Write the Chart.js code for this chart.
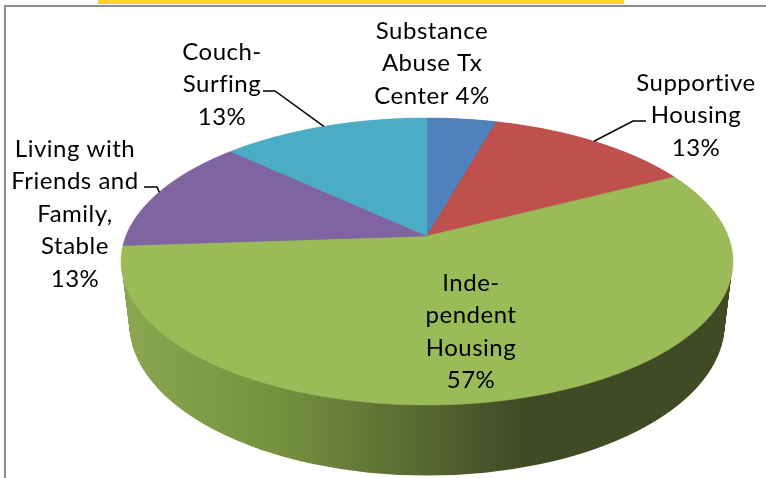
<!DOCTYPE html>
<html>
<head>
<meta charset="utf-8">
<script src="https://cdn.jsdelivr.net/npm/chart.js@4/dist/chart.umd.min.js"></script>
<style>
    html, body { margin: 0; padding: 0; background: #fff; overflow: hidden; }
    #wrap { position: relative; width: 766px; height: 478px; }
    #topBar { position: absolute; left: 98px; top: 0; width: 526px; height: 4px; background: #ffd420; }
    #frameTop { position: absolute; left: 4px; top: 5px; width: 762px; height: 2px; background: #8c8c8c; }
    #frameLeft { position: absolute; left: 4px; top: 5px; width: 2px; height: 473px; background: #8c8c8c; }
    canvas { position: absolute; left: 0; top: 0; filter: blur(0.35px); }
</style>
</head>
<body>
<div id="wrap">
    <canvas id="myChart" width="766" height="478"></canvas>
    <div id="topBar"></div>
    <div id="frameTop"></div>
    <div id="frameLeft"></div>
</div>
<script>
// DATA
const categories = ["Substance Abuse Tx Center", "Supportive Housing", "Independent Housing", "Living with Friends and Family, Stable", "Couch-Surfing"];
const counts = [1, 3, 13, 3, 3];
const sliceColors = ["#4f81bd", "#c0504d", "#9bbb59", "#8064a2", "#4bacc6"];

// label text per slice, the percentage gets added from the data
const labelLines = [
    ["Substance", "Abuse Tx", "Center {p}"],
    ["Supportive", "Housing", "{p}"],
    ["Inde-", "pendent", "Housing", "{p}"],
    ["Living with", "Friends and", "Family,", "Stable", "{p}"],
    ["Couch-", "Surfing", "{p}"]
];

// LAYOUT OF THE TILTED PIE
const tilt = { cx: 427, apexY: 236, a: 301.1, b: 97.03, k: -0.1777 };
const floorEllipse = { cx: 427, cy: 325, rx: 298, ry: 152 };
const topEllipse = { cx: 427, cy: 261.5, rx: 306, ry: 143.5 };
const labelBoxes = [
    { x: 432, y: 31 },
    { x: 696, y: 83 },
    { x: 471, y: 283 },
    { x: 75, y: 149 },
    { x: 222, y: 52 }
];
const lineHeight = 32.5;
// bent leader lines: start next to the text, then knee, last point is on the slice
const leaders = { 1: [[646, 121], [633, 121]], 3: [[144, 187], [157, 187]], 4: [[263, 91], [275, 91]] };

function project(angle) {
    const d = 1 + tilt.k * Math.sin(angle);
    return {
        x: tilt.cx + tilt.a * Math.cos(angle) / d,
        y: (tilt.apexY + tilt.b * Math.sin(angle)) / d
    };
}

// Chart.js still works out the angles, the arc only gets drawn on the tilted plane
Chart.ArcElement.prototype.draw = function (ctx) {
    const color = this.options.backgroundColor;
    const steps = Math.ceil((this.endAngle - this.startAngle) * 60);
    ctx.save();
    ctx.beginPath();
    ctx.moveTo(tilt.cx, tilt.apexY);
    for (let i = 0; i <= steps; i++) {
        const p = project(this.startAngle + (this.endAngle - this.startAngle) * i / steps);
        ctx.lineTo(p.x, p.y);
    }
    ctx.closePath();
    ctx.fillStyle = color;
    ctx.fill();
    ctx.strokeStyle = color;
    ctx.lineWidth = 0.5;
    ctx.stroke();
    ctx.restore();
};

const sideWall = {
    id: "sideWall",
    beforeDatasetsDraw(chart) {
        const ctx = chart.ctx;
        const grad = ctx.createLinearGradient(125, 0, 730, 0);
        grad.addColorStop(0, "#8ba650");
        grad.addColorStop(0.25, "#76923f");
        grad.addColorStop(0.45, "#5d6f34");
        grad.addColorStop(0.66, "#404a24");
        grad.addColorStop(1, "#404a24");
        ctx.save();
        ctx.fillStyle = grad;
        for (let t = 0; t <= 1; t += 0.02) {
            ctx.beginPath();
            ctx.ellipse(
                topEllipse.cx + (floorEllipse.cx - topEllipse.cx) * t,
                topEllipse.cy + (floorEllipse.cy - topEllipse.cy) * t,
                topEllipse.rx + (floorEllipse.rx - topEllipse.rx) * t - 0.5,
                topEllipse.ry + (floorEllipse.ry - topEllipse.ry) * t,
                0, 0, Math.PI * 2
            );
            ctx.fill();
        }
        ctx.restore();
    }
};

const pieLabels = {
    id: "pieLabels",
    afterDatasetsDraw(chart) {
        const ctx = chart.ctx;
        const total = counts.reduce((a, b) => a + b, 0);
        const arcs = chart.getDatasetMeta(0).data;
        ctx.save();

        // leader lines
        ctx.strokeStyle = "#000";
        ctx.lineWidth = 1.5;
        Object.keys(leaders).forEach(i => {
            const end = project((arcs[i].startAngle + arcs[i].endAngle) / 2);
            ctx.beginPath();
            ctx.moveTo(leaders[i][0][0], leaders[i][0][1]);
            ctx.lineTo(leaders[i][1][0], leaders[i][1][1]);
            ctx.lineTo(end.x, end.y);
            ctx.stroke();
        });

        // text
        ctx.fillStyle = "#000";
        ctx.font = "24px Lato";
        ctx.letterSpacing = "0.5px";
        ctx.textAlign = "center";
        ctx.textBaseline = "middle";
        labelLines.forEach((lines, i) => {
            const pct = Math.round(counts[i] / total * 100) + "%";
            lines.forEach((line, j) => {
                ctx.fillText(line.replace("{p}", pct), labelBoxes[i].x, labelBoxes[i].y + j * lineHeight);
            });
        });
        ctx.restore();
    }
};

new Chart(document.getElementById("myChart"), {
    type: "pie",
    data: {
        labels: categories,
        datasets: [{ data: counts, backgroundColor: sliceColors, borderWidth: 0 }]
    },
    options: {
        responsive: false,
        animation: false,
        plugins: { legend: { display: false }, tooltip: { enabled: false } }
    },
    plugins: [sideWall, pieLabels]
});
</script>
</body>
</html>
